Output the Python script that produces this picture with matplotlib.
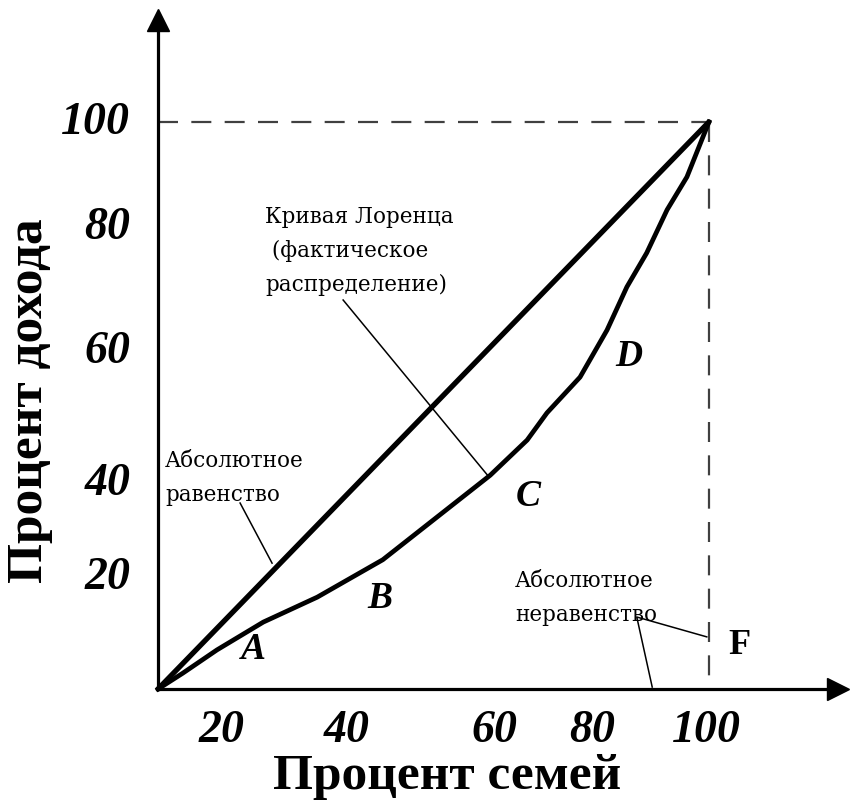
import matplotlib
matplotlib.use("Agg")
import matplotlib.pyplot as plt

# ---- data ----
equality_x = [0, 100]
equality_y = [0, 100]

lorenz_x = [0, 4.5, 10.7, 19.1, 28.9, 40.8, 60.3, 67.0, 70.6, 76.6, 81.5, 85.1, 88.7, 92.4, 96.0, 100]
lorenz_y = [0, 2.8, 6.9, 11.8, 16.2, 22.8, 37.7, 43.9, 48.7, 55.0, 63.3, 70.9, 76.9, 84.5, 90.3, 100]

x_tick_pos = [11.6, 34.3, 61.0, 78.8, 99.5]
x_tick_labels = ["20", "40", "60", "80", "100"]
y_tick_pos = [20.5, 37.0, 60.3, 82.2, 100.7]
y_tick_labels = ["20", "40", "60", "80", "100"]

xlabel = "Процент семей"
ylabel = "Процент дохода"

point_labels = ["A", "B", "C", "D"]
point_x = [17.4, 40.3, 67.2, 85.5]
point_y = [6.9, 16.0, 34.0, 58.6]

lorenz_note = "Кривая Лоренца\n (фактическое\nраспределение)"
equality_note = "Абсолютное\nравенство"
inequality_note = "Абсолютное\nнеравенство"

# ---- figure ----
fig = plt.figure(figsize=(8.5, 8.07), dpi=100)
ax = fig.add_axes([0, 0, 1, 1])
ax.set_xlim(-28.68, 125.6)
ax.set_ylim(-20.8, 121.5)

for s in ["top", "right"]:
    ax.spines[s].set_visible(False)
ax.spines["left"].set_position(("data", 0))
ax.spines["bottom"].set_position(("data", 0))
ax.spines["left"].set_bounds(0, 117)
ax.spines["bottom"].set_bounds(0, 123)
ax.spines["left"].set_linewidth(2.3)
ax.spines["bottom"].set_linewidth(2.3)

# arrows
ax.plot([123.5], [0], marker=">", color="black", markersize=16, clip_on=False)
ax.plot([0], [118.0], marker="^", color="black", markersize=16, clip_on=False)

tick_font = dict(family="Liberation Serif", weight="bold", style="italic", size=33)
ax.set_xticks(x_tick_pos)
ax.set_xticklabels(x_tick_labels, fontdict=tick_font)
ax.set_yticks(y_tick_pos)
ax.set_yticklabels(y_tick_labels, fontdict=tick_font)
ax.tick_params(axis="both", length=0)
ax.tick_params(axis="x", pad=15)
ax.tick_params(axis="y", pad=20)

title_font = dict(family="Liberation Serif", weight="bold", size=37)
ax.set_xlabel(xlabel, fontdict=title_font)
ax.set_ylabel(ylabel, fontdict=title_font)
ax.xaxis.set_label_coords(0.526, 0.066)
ax.yaxis.set_label_coords(0.062, 0.504)

# dashed guides
dash_kw = dict(color="#404040", lw=1.6, dashes=(9, 6))
ax.plot([0, 100], [100, 100], **dash_kw)
ax.plot([100, 100], [100, 0], **dash_kw)

# curves
ax.plot(equality_x, equality_y, color="black", lw=3.8, solid_capstyle="round")
ax.plot(lorenz_x, lorenz_y, color="black", lw=3.4, solid_joinstyle="round")

# pointer lines
ax.plot([33.6, 59.9], [68.6, 37.6], color="black", lw=1.1)
ax.plot([14.9, 20.7], [32.8, 22.2], color="black", lw=1.1)
ax.plot([89.7, 86.9, 99.6], [0.35, 12.7, 9.2], color="black", lw=1.1)

note_font = dict(family="DejaVu Serif", size=15.5)
ax.text(19.4, 85.2, lorenz_note, va="top", ha="left", linespacing=1.7, **note_font)
ax.text(1.3, 42.2, equality_note, va="top", ha="left", linespacing=1.7, **note_font)
ax.text(64.8, 21.0, inequality_note, va="top", ha="left", linespacing=1.7, **note_font)

letter_font = dict(family="Liberation Serif", weight="bold", style="italic", size=27)
for lab, px, py in zip(point_labels, point_x, point_y):
    ax.text(px, py, lab, ha="center", va="center", **letter_font)
ax.text(105.6, 7.6, "F", ha="center", va="center", family="Liberation Serif",
        weight="bold", size=26)

fig.savefig("out.png", dpi=100)
